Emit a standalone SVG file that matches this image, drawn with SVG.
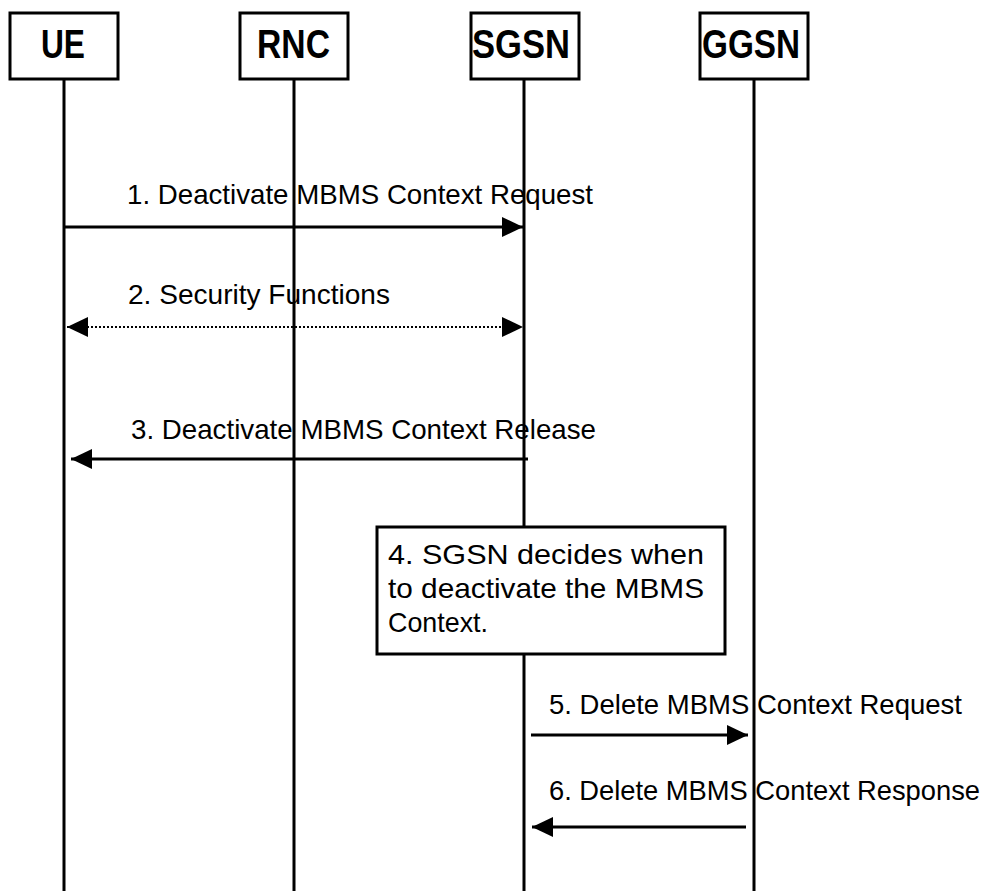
<svg xmlns="http://www.w3.org/2000/svg" width="991" height="891" viewBox="0 0 991 891">
<defs>
<marker id="ah" markerUnits="userSpaceOnUse" markerWidth="22" markerHeight="20" refX="21" refY="10" orient="auto-start-reverse" viewBox="0 0 22 20">
<path d="M0,0 L21,10 L0,20 z" fill="#000"/>
</marker>
<style>
.box{fill:#fff;stroke:#000;stroke-width:3}
.hdr{font-family:"Liberation Sans",Arial,sans-serif;font-weight:bold;font-size:40px;fill:#000}
.life{stroke:#000;stroke-width:3}
.msg{stroke:#000;stroke-width:3;fill:none}
.dot{stroke:#000;stroke-width:2;stroke-dasharray:2 2;fill:none}
.lbl{font-family:"Liberation Sans",Arial,sans-serif;font-size:28px;fill:#000}
</style>
</defs>
<rect width="991" height="891" fill="#fff"/>
<g id="lifelines">
<line class="life" x1="64" y1="79" x2="64" y2="891"/>
<line class="life" x1="294" y1="79" x2="294" y2="891"/>
<line class="life" x1="524" y1="79" x2="524" y2="891"/>
<line class="life" x1="754" y1="79" x2="754" y2="891"/>
</g>
<g id="UE"><rect class="box" x="10" y="13" width="108" height="66"/><text class="hdr" x="41" y="58" textLength="44" lengthAdjust="spacingAndGlyphs">UE</text></g>
<g id="RNC"><rect class="box" x="240" y="13" width="108" height="66"/><text class="hdr" x="257" y="58" textLength="73" lengthAdjust="spacingAndGlyphs">RNC</text></g>
<g id="SGSN"><rect class="box" x="471" y="13" width="108" height="66"/><text class="hdr" x="472" y="58" textLength="98" lengthAdjust="spacingAndGlyphs">SGSN</text></g>
<g id="GGSN"><rect class="box" x="700" y="13" width="108" height="66"/><text class="hdr" x="702" y="58" textLength="98" lengthAdjust="spacingAndGlyphs">GGSN</text></g>
<g id="connectors">
<line class="msg" x1="64" y1="227" x2="523" y2="227" marker-end="url(#ah)"/>
<line class="dot" x1="67" y1="327" x2="523" y2="327" marker-start="url(#ah)" marker-end="url(#ah)"/>
<line class="msg" x1="528" y1="459" x2="71" y2="459" marker-end="url(#ah)"/>
<line class="msg" x1="531" y1="735" x2="748" y2="735" marker-end="url(#ah)"/>
<line class="msg" x1="746" y1="827" x2="532" y2="827" marker-end="url(#ah)"/>
</g>
<g id="labels">
<text class="lbl" x="127" y="204" textLength="466" lengthAdjust="spacingAndGlyphs">1. Deactivate MBMS Context Request</text>
<text class="lbl" x="128" y="304" textLength="262" lengthAdjust="spacingAndGlyphs">2. Security Functions</text>
<text class="lbl" x="131" y="439" textLength="465" lengthAdjust="spacingAndGlyphs">3. Deactivate MBMS Context Release</text>
<text class="lbl" x="549" y="714" textLength="413" lengthAdjust="spacingAndGlyphs">5. Delete MBMS Context Request</text>
<text class="lbl" x="549" y="800" textLength="431" lengthAdjust="spacingAndGlyphs">6. Delete MBMS Context Response</text>
</g>
<g id="step4">
<rect class="box" x="377" y="527" width="348" height="127"/>
<text class="lbl" x="388" y="564" textLength="316" lengthAdjust="spacingAndGlyphs">4. SGSN decides when</text>
<text class="lbl" x="388" y="598" textLength="316" lengthAdjust="spacingAndGlyphs">to deactivate the MBMS</text>
<text class="lbl" x="388" y="632" textLength="100" lengthAdjust="spacingAndGlyphs">Context.</text>
</g>
</svg>
